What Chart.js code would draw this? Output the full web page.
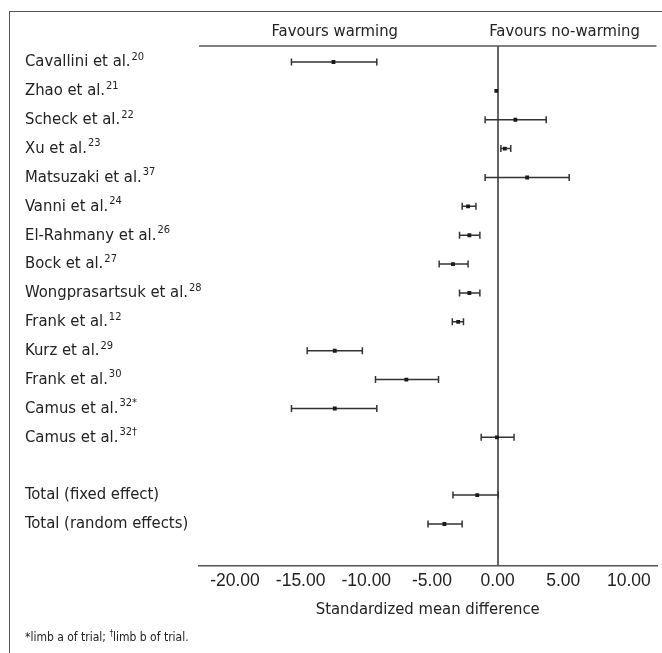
<!DOCTYPE html>
<html>
<head>
<meta charset="utf-8">
<script src="https://cdn.jsdelivr.net/npm/chart.js@4.4.1/dist/chart.umd.min.js"></script>
<style>
    html, body { margin: 0; padding: 0; background: #fff; overflow: hidden; }
    #frame { position: absolute; left: 9px; top: 11px; width: 720px; height: 720px; border: 1.5px solid #555; box-sizing: border-box; }
    #wrap { position: absolute; left: 0; top: 0; width: 662px; height: 653px; }
    #note { position: absolute; left: 25px; top: 629px; font: 12px "DejaVu Sans Condensed", sans-serif; color: #222; }
    #note sup { font-size: 8px; }
</style>
</head>
<body>
<div id="frame"></div>
<div id="wrap"><canvas id="forest"></canvas></div>
<div id="note">*limb a of trial; <sup>†</sup>limb b of trial.</div>
<script>
// * Forest plot: standardized mean difference per trial

const studies = [
    'Cavallini et al.', 'Zhao et al.', 'Scheck et al.', 'Xu et al.', 'Matsuzaki et al.',
    'Vanni et al.', 'El-Rahmany et al.', 'Bock et al.', 'Wongprasartsuk et al.', 'Frank et al.',
    'Kurz et al.', 'Frank et al.', 'Camus et al.', 'Camus et al.', '',
    'Total (fixed effect)', 'Total (random effects)'
]
const refs = ['20', '21', '22', '23', '37', '24', '26', '27', '28', '12', '29', '30', '32*', '32†', '', '', '']

// point estimate and 95% CI
const smd = [-12.5, -0.1, 1.35, 0.55, 2.25, -2.25, -2.15, -3.4, -2.15, -3.0, -12.4, -6.95, -12.4, -0.05, null, -1.55, -4.05]
const ciLow = [-15.7, -0.12, -0.95, 0.25, -0.95, -2.7, -2.9, -4.45, -2.9, -3.45, -14.5, -9.3, -15.7, -1.25, null, -3.4, -5.3]
const ciHigh = [-9.2, -0.08, 3.7, 1.0, 5.45, -1.65, -1.35, -2.25, -1.35, -2.6, -10.3, -4.5, -9.2, 1.25, null, 0.05, -2.7]

const tickValues = [-20, -15, -10, -5, 0, 5, 10]
const headers = ['Favours warming', 'Favours no-warming']
const axisTitle = 'Standardized mean difference'

const labelFont = '16.5px "DejaVu Sans Condensed", sans-serif'
const supFont = '11px "DejaVu Sans Condensed", sans-serif'
const ink = '#222'

// build the three layers from the arrays
const markers = []
const whiskers = []
const caps = []
studies.forEach((name, i) => {
    if (smd[i] === null) return
    markers.push({ x: smd[i], y: i })
    whiskers.push({ x: ciLow[i], y: i }, { x: ciHigh[i], y: i }, { x: null, y: null })
    if (ciHigh[i] - ciLow[i] > 0.2) caps.push({ x: ciLow[i], y: i }, { x: ciHigh[i], y: i })
})

// text that chart.js can't do by itself (superscripts, headers)
const forestText = {
    id: 'forestText',
    afterDraw(chart) {
        const { ctx, chartArea, scales } = chart
        const x = scales.x
        const y = scales.y
        ctx.save()
        ctx.strokeStyle = '#555'
        ctx.lineWidth = 1.5
        ctx.beginPath()
        ctx.moveTo(chartArea.left, chartArea.top)
        ctx.lineTo(chartArea.right, chartArea.top)
        ctx.stroke()

        ctx.fillStyle = ink
        ctx.font = labelFont
        ctx.textBaseline = 'middle'
        ctx.textAlign = 'center'
        ctx.fillText(headers[0], x.getPixelForValue(-12.4), chartArea.top - 14)
        ctx.fillText(headers[1], x.getPixelForValue(5.1), chartArea.top - 14)
        ctx.fillText(axisTitle, (chartArea.left + chartArea.right) / 2, chartArea.bottom + 44)

        ctx.textAlign = 'left'
        studies.forEach((name, i) => {
            const yy = y.getPixelForValue(i)
            ctx.font = labelFont
            ctx.fillText(name, 25, yy)
            if (refs[i]) {
                const w = ctx.measureText(name).width
                ctx.font = supFont
                ctx.fillText(refs[i], 25 + w + 1, yy - 5)
            }
        })
        ctx.restore()
    }
}

new Chart(document.getElementById('forest'), {
    type: 'scatter',
    data: {
        datasets: [
            {
                data: markers,
                pointStyle: 'rect',
                pointRadius: 2.7,
                backgroundColor: '#1a1a1a',
                borderWidth: 0
            },
            {
                data: caps,
                pointStyle: 'line',
                rotation: 90,
                pointRadius: 3.5,
                borderColor: '#333',
                borderWidth: 1.5
            },
            {
                data: whiskers,
                showLine: true,
                spanGaps: false,
                pointRadius: 0,
                borderColor: '#333',
                borderWidth: 1.5
            }
        ]
    },
    plugins: [forestText],
    options: {
        responsive: true,
        maintainAspectRatio: false,
        animation: false,
        layout: { padding: { left: 199, right: 4, top: 46, bottom: 0 } },
        plugins: {
            legend: { display: false },
            tooltip: { enabled: false }
        },
        scales: {
            x: {
                type: 'linear',
                min: -22.74,
                max: 12.1,
                afterFit: (axis) => { axis.height = 87 },
                afterBuildTicks: (axis) => { axis.ticks = tickValues.map((v) => ({ value: v })) },
                border: { display: true, color: '#555', width: 1.5 },
                grid: {
                    drawTicks: false,
                    color: (c) => (c.tick && c.tick.value === 0 ? '#666' : 'rgba(0,0,0,0)'),
                    lineWidth: 2
                },
                ticks: {
                    autoSkip: false,
                    maxRotation: 0,
                    padding: 5,
                    color: ink,
                    font: { family: '"Liberation Sans", Arial, sans-serif', size: 17.5 },
                    callback: (v) => Number(v).toFixed(2)
                }
            },
            y: {
                type: 'linear',
                display: false,
                reverse: true,
                min: -0.554,
                max: 17.455
            }
        }
    }
})
</script>
</body>
</html>
